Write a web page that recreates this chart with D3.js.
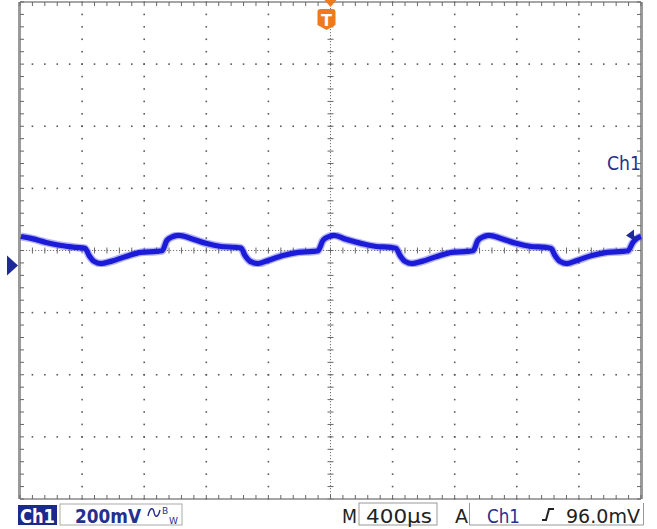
<!DOCTYPE html>
<html><head><meta charset="utf-8">
<script src="https://cdn.jsdelivr.net/npm/d3@7"></script>
<style>html,body{margin:0;padding:0;background:#fff;}svg{display:block;}</style>
</head><body>
<svg id="c" width="657" height="529"></svg>
<script>
// ---- data (time in µs relative to trigger, voltage in mV) ----
const timeUs = [-1994,-1929,-1832,-1736,-1639,-1581,-1555,-1523,-1478,-1414,-1317,-1221,-1124,-1085,-1053,-1014,-976,-899,-802,-705,-609,-576,-551,-518,-467,-403,-306,-209,-113,-81,-48,-10,23,100,196,293,390,422,448,480,525,589,686,783,879,918,950,989,1021,1098,1195,1291,1388,1420,1446,1478,1523,1588,1684,1781,1878,1916,1948,1974,2000];
const ch1mV  = [93,87,74,64,58,55,32,13,6,13,29,42,45,47,81,93,97,87,71,61,58,56,32,13,6,16,32,42,45,47,81,93,97,84,71,61,58,55,32,13,6,13,29,42,45,47,81,93,97,87,71,61,58,55,32,13,6,16,32,42,45,47,74,87,93];
const timeDomain = [-2000, 2000];      // 10 div x 400 µs
const voltDomain = [-752, 848];        // 8 div x 200 mV, ground offset
const triggerLevel = 96;               // mV
const divX = [-5,-4,-3,-2,-1,0,1,2,3,4,5];
const divY = [-4,-3,-2,-1,0,1,2,3,4];
const scaleLabel = "200mV";
const timeLabel = "400µs";
const trigLabel = "96.0mV";

const svg = d3.select("#c");
const L = 20, R = 641, T = 2, B = 499;
const x = d3.scaleLinear().domain(timeDomain).range([L, R]);
const y = d3.scaleLinear().domain(voltDomain).range([B, T]);
const dx = d3.scaleLinear().domain([-5,5]).range([L, R]);
const dy = d3.scaleLinear().domain([-4,4]).range([B, T]);

const defs = svg.append("defs");
defs.append("filter").attr("id","blur").append("feGaussianBlur").attr("stdDeviation",0.7);

const g = svg.append("g");
const minorX = d3.range(-5, 5.001, 0.2);
const minorY = d3.range(-4, 4.001, 0.2);
const dotCol = "#5a5a5a";

// dotted grid lines (dots at minor divisions)
divX.filter(d => d !== 0 && Math.abs(d) !== 5).forEach(d => {
  g.selectAll(null).data(minorY).enter().append("rect")
    .attr("x", dx(d)-0.8).attr("y", v => dy(v)-0.8).attr("width",1.6).attr("height",1.6).attr("fill",dotCol);
});
divY.filter(d => d !== 0 && Math.abs(d) !== 4).forEach(d => {
  g.selectAll(null).data(minorX).enter().append("rect")
    .attr("x", v => dx(v)-0.8).attr("y", dy(d)-0.8).attr("width",1.6).attr("height",1.6).attr("fill",dotCol);
});
// center crosshair: fine dotted + ticks
g.append("line").attr("x1",L).attr("x2",R).attr("y1",dy(0)).attr("y2",dy(0))
  .attr("stroke","#777").attr("stroke-width",1).attr("stroke-dasharray","1.2,1.8");
g.append("line").attr("y1",T).attr("y2",B).attr("x1",dx(0)).attr("x2",dx(0))
  .attr("stroke","#777").attr("stroke-width",1).attr("stroke-dasharray","1.2,1.8");
g.selectAll(null).data(minorX).enter().append("line")
  .attr("x1", v=>dx(v)).attr("x2", v=>dx(v)).attr("y1", dy(0)-3).attr("y2", dy(0)+3)
  .attr("stroke","#666").attr("stroke-width",1);
g.selectAll(null).data(minorY).enter().append("line")
  .attr("y1", v=>dy(v)).attr("y2", v=>dy(v)).attr("x1", dx(0)-3).attr("x2", dx(0)+3)
  .attr("stroke","#666").attr("stroke-width",1);

// border
g.append("line").attr("x1",L).attr("x2",R).attr("y1",T).attr("y2",T).attr("stroke","#888").attr("stroke-width",1.5);
g.append("line").attr("x1",L).attr("x2",R).attr("y1",B).attr("y2",B).attr("stroke","#888").attr("stroke-width",1.5);
g.append("rect").attr("x",L-2).attr("y",T).attr("width",3).attr("height",B-T).attr("fill","#9a9a9a");
g.append("rect").attr("x",R-1).attr("y",T).attr("width",3).attr("height",B-T).attr("fill","#9a9a9a");
// border ticks
g.selectAll(null).data(minorX).enter().append("line")
  .attr("x1", v=>dx(v)).attr("x2", v=>dx(v)).attr("y1", T).attr("y2", T+4).attr("stroke","#666");
g.selectAll(null).data(minorX).enter().append("line")
  .attr("x1", v=>dx(v)).attr("x2", v=>dx(v)).attr("y1", B-4).attr("y2", B).attr("stroke","#666");
g.selectAll(null).data(minorY).enter().append("line")
  .attr("y1", v=>dy(v)).attr("y2", v=>dy(v)).attr("x1", L).attr("x2", L+4).attr("stroke","#666");
g.selectAll(null).data(minorY).enter().append("line")
  .attr("y1", v=>dy(v)).attr("y2", v=>dy(v)).attr("x1", R-4).attr("x2", R).attr("stroke","#666");

// trace
const pts = timeUs.map((t,i)=>[t, ch1mV[i]]);
const line = d3.line().x(d=>x(d[0])).y(d=>y(d[1])).curve(d3.curveMonotoneX);
svg.append("path").attr("d", line(pts)).attr("fill","none")
  .attr("stroke","#4a4af4").attr("stroke-width",8).attr("opacity",0.4).attr("filter","url(#blur)")
  .attr("stroke-linejoin","round");
svg.append("path").attr("d", line(pts)).attr("fill","none")
  .attr("stroke","#1e1ed8").attr("stroke-width",5.2).attr("stroke-linejoin","round").attr("filter","url(#blur)");

// ground marker (left)
const gy = y(0);
svg.append("path").attr("d", `M7,${gy-10}L18,${gy}L7,${gy+10}Z`).attr("fill","#1e2a96");
// trigger level marker (right)
const ty = y(triggerLevel);
svg.append("path").attr("d", `M626,${ty}L634,${ty-6}L634,${ty+5}Z`).attr("fill","#1e2a96");
svg.append("line").attr("x1",630).attr("y1",ty).attr("x2",637).attr("y2",ty+3).attr("stroke","#1e2a96").attr("stroke-width",2.5);

// Ch1 label at right
svg.append("text").attr("x",607).attr("y",170).text("Ch1")
  .attr("font-family","DejaVu Sans, sans-serif").attr("font-size",19).attr("fill","#25308e")
  .attr("textLength",34).attr("lengthAdjust","spacingAndGlyphs");

// trigger position marker (top)
const tx = x(0);
svg.append("path").attr("d", `M${tx-6},0L${tx+6},0L${tx},7Z`).attr("fill","#f07a1a");
svg.append("path").attr("d", `M${tx-13},12 Q${tx-13},9 ${tx-10},9 L${tx+2},9 Q${tx+5},9 ${tx+5},12 L${tx+5},25 L${tx-4},30 L${tx-13},25 Z`).attr("fill","#f07a1a");
svg.append("text").attr("x",tx-4).attr("y",26).attr("text-anchor","middle").text("T")
  .attr("font-family","DejaVu Sans, sans-serif").attr("font-weight","bold").attr("font-size",16).attr("fill","#fff");

// status bar
const sb = svg.append("g").attr("font-family","DejaVu Sans, sans-serif").attr("font-size",20);
sb.append("rect").attr("x",60).attr("y",504).attr("width",122).attr("height",21).attr("fill","none").attr("stroke","#aaa");
sb.append("rect").attr("x",18).attr("y",505).attr("width",39).attr("height",20).attr("fill","#1a2a8c");
sb.append("text").attr("x",20).attr("y",523).text("Ch1").attr("fill","#fff").attr("font-weight","bold")
  .attr("textLength",35).attr("lengthAdjust","spacingAndGlyphs");
sb.append("text").attr("x",75).attr("y",523).text(scaleLabel).attr("fill","#25308e").attr("font-weight","bold")
  .attr("textLength",66).attr("lengthAdjust","spacingAndGlyphs");
// AC-coupling / bandwidth-limit symbol
sb.append("path").attr("d","M148,516 C150,507 153,507 154,512 C155,518 158,518 160,510")
  .attr("fill","none").attr("stroke","#25308e").attr("stroke-width",1.4);
sb.append("text").attr("x",162).attr("y",514).text("B").attr("fill","#25308e").attr("font-size",9);
sb.append("text").attr("x",169).attr("y",524).text("W").attr("fill","#25308e").attr("font-size",9);

sb.append("text").attr("x",342).attr("y",523).text("M").attr("fill","#222").attr("textLength",15).attr("lengthAdjust","spacingAndGlyphs");
sb.append("rect").attr("x",359).attr("y",503).attr("width",78).attr("height",22).attr("fill","none").attr("stroke","#999");
sb.append("text").attr("x",366).attr("y",523).text(timeLabel).attr("fill","#222")
  .attr("textLength",66).attr("lengthAdjust","spacingAndGlyphs");
sb.append("text").attr("x",455).attr("y",523).text("A").attr("fill","#222").attr("textLength",13).attr("lengthAdjust","spacingAndGlyphs");
sb.append("path").attr("d","M469.5,503 L469.5,525 L643.5,525 L643.5,503").attr("fill","none").attr("stroke","#999");
sb.append("text").attr("x",487).attr("y",523).text("Ch1").attr("fill","#25308e")
  .attr("textLength",33).attr("lengthAdjust","spacingAndGlyphs");
sb.append("path").attr("d","M542,520 L546,520 L549,509 L554,509").attr("fill","none").attr("stroke","#222").attr("stroke-width",2);
sb.append("text").attr("x",566).attr("y",523).text(trigLabel).attr("fill","#222")
  .attr("textLength",74).attr("lengthAdjust","spacingAndGlyphs");
</script>
</body></html>
